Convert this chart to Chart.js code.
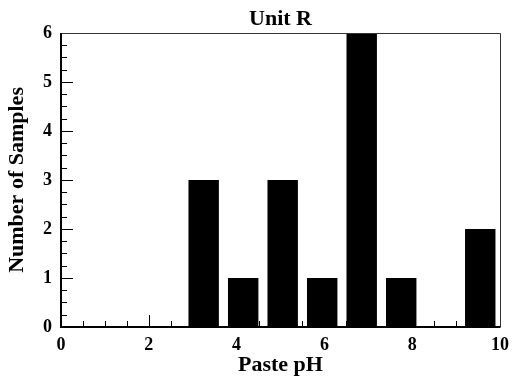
<!DOCTYPE html>
<html>
<head>
<meta charset="utf-8">
<title>Unit R</title>
<script src="https://cdn.jsdelivr.net/npm/chart.js@4/dist/chart.umd.min.js"></script>
<style>
  html, body { margin: 0; padding: 0; background: #fff; }
  #wrap { width: 518px; height: 391px; }
</style>
</head>
<body>
<div id="wrap"><canvas id="phChart" width="518" height="391"></canvas></div>
<script>
// histogram bins (pH, bin width 0.9 starting at 2.8) and sample counts
const binCenters = [3.25, 4.15, 5.05, 5.95, 6.85, 7.75, 8.65, 9.55];
const counts = [3, 1, 3, 1, 6, 1, 0, 2];
const xTicks = [0, 2, 4, 6, 8, 10];
const yTicks = [0, 1, 2, 3, 4, 5, 6];

const serif = 'Liberation Serif, Times New Roman, serif';

// inward tick marks (major + minor) and the box frame around the plot
const frameTicks = {
  id: 'frameTicks',
  afterDatasetsDraw(chart) {
    const { ctx, chartArea: { left, right, top, bottom }, scales: { x, y } } = chart;
    ctx.save();
    ctx.strokeStyle = '#000';
    ctx.lineWidth = 1;
    ctx.beginPath();
    for (let i = 0; i <= 20; i++) {
      const v = i * 0.5;
      const px = Math.round(x.getPixelForValue(v)) + 0.5;
      const len = xTicks.includes(v) ? 12 : 6;
      ctx.moveTo(px, bottom);
      ctx.lineTo(px, bottom - len);
    }
    for (let i = 0; i <= 24; i++) {
      const v = i * 0.25;
      const py = Math.round(y.getPixelForValue(v)) + 0.5;
      const len = yTicks.includes(v) ? 12 : 6;
      ctx.moveTo(left, py);
      ctx.lineTo(left + len, py);
    }
    ctx.stroke();

    // top and right edges
    ctx.strokeStyle = '#333';
    ctx.beginPath();
    ctx.moveTo(left, Math.round(top) + 0.5);
    ctx.lineTo(Math.round(right) + 0.5, Math.round(top) + 0.5);
    ctx.lineTo(Math.round(right) + 0.5, bottom);
    ctx.stroke();

    // axis lines
    ctx.strokeStyle = '#000';
    ctx.lineWidth = 2;
    ctx.beginPath();
    ctx.moveTo(left, top);
    ctx.lineTo(left, bottom);
    ctx.lineTo(right + 0.5, bottom);
    ctx.stroke();
    ctx.restore();
  }
};

new Chart(document.getElementById('phChart'), {
  type: 'bar',
  data: {
    datasets: [{
      data: binCenters.map((c, i) => ({ x: c, y: counts[i] })),
      backgroundColor: '#000',
      borderWidth: 0,
      categoryPercentage: 1,
      barPercentage: 0.77
    }]
  },
  options: {
    responsive: false,
    animation: false,
    devicePixelRatio: 1,
    layout: { padding: { left: 0, right: 18, top: 0, bottom: 0 } },
    plugins: {
      legend: { display: false },
      tooltip: { enabled: false },
      title: {
        display: true,
        text: 'Unit R',
        fullSize: false,
        color: '#000',
        font: { family: serif, size: 22, weight: 'bold', lineHeight: 1.2 },
        padding: { top: 6.5, bottom: 0 }
      }
    },
    scales: {
      x: {
        type: 'linear',
        min: 0,
        max: 10,
        offset: false,
        grid: { display: false, drawTicks: false },
        border: { display: false },
        afterBuildTicks: (s) => { s.ticks = xTicks.map(v => ({ value: v })); },
        afterFit: (s) => { s.height = 64; },
        ticks: {
          color: '#000',
          padding: 8,
          maxRotation: 0,
          font: { family: serif, size: 18, weight: 'bold' }
        },
        title: {
          display: true,
          text: 'Paste pH',
          color: '#000',
          font: { family: serif, size: 22, weight: 'bold', lineHeight: 1.2 },
          padding: { top: 0, bottom: 12.5 }
        }
      },
      y: {
        min: 0,
        max: 6,
        grid: { display: false, drawTicks: false },
        border: { display: false },
        afterBuildTicks: (s) => { s.ticks = yTicks.map(v => ({ value: v })); },
        afterFit: (s) => { s.width = 61; },
        ticks: {
          color: '#000',
          padding: 9,
          font: { family: serif, size: 18, weight: 'bold' }
        },
        title: {
          display: true,
          text: 'Number of Samples',
          color: '#000',
          font: { family: serif, size: 22, weight: 'bold', lineHeight: 1.2 },
          padding: { top: 4.4, bottom: 0 }
        }
      }
    }
  },
  plugins: [frameTicks]
});
</script>
</body>
</html>
